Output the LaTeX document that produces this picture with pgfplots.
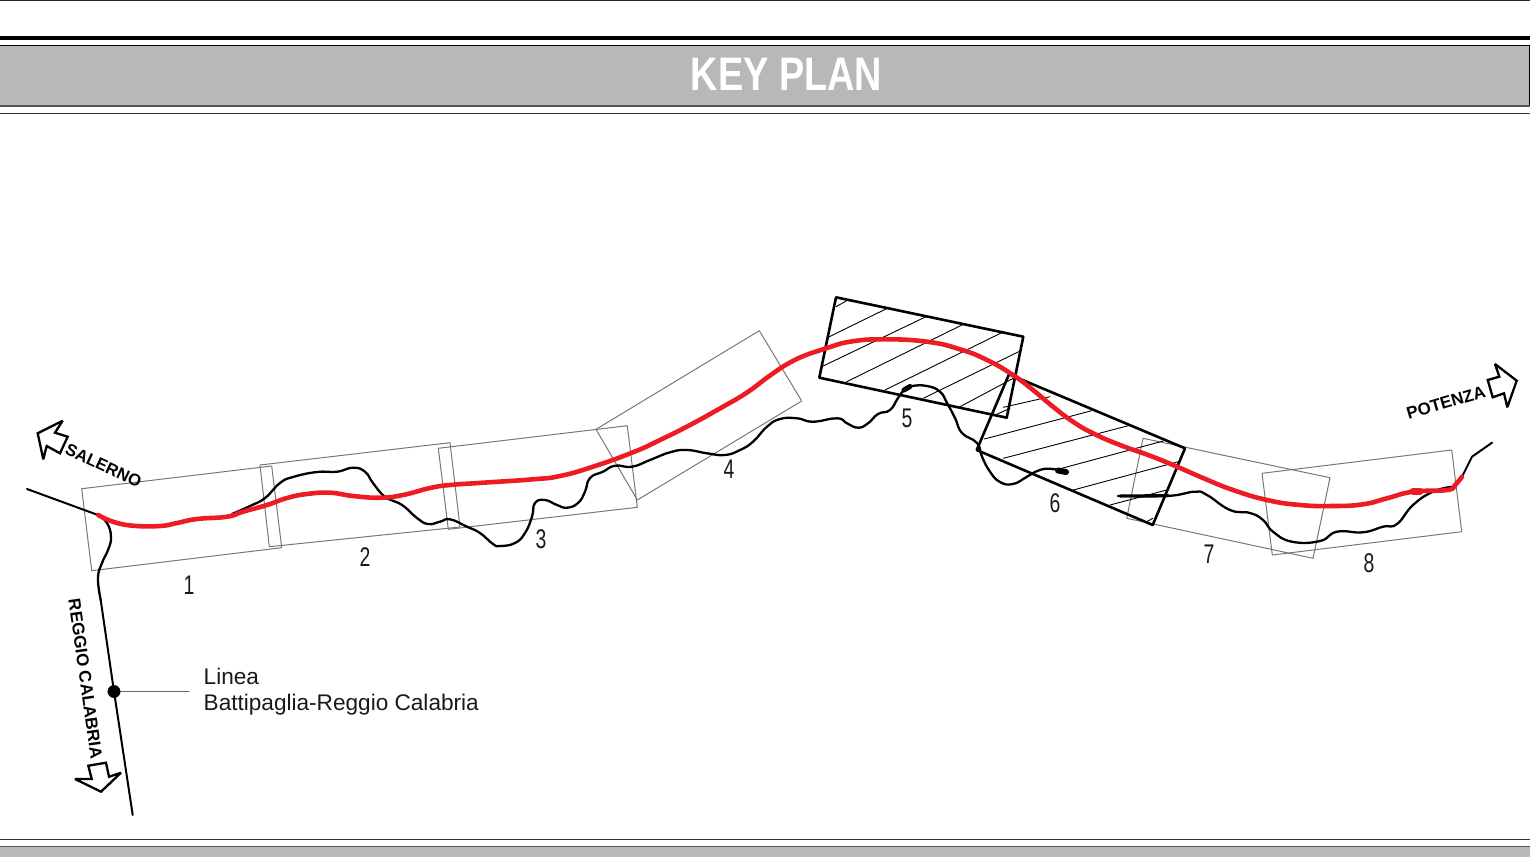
\documentclass[border=0pt]{standalone}
\usepackage{fontspec}
\setmainfont{Liberation Sans}
\usepackage{pgfplots}
\pgfplotsset{compat=1.18}
\definecolor{band}{HTML}{B8B8B8}
\definecolor{bandline}{HTML}{555555}
\definecolor{tracered}{HTML}{ED1C24}
\definecolor{sheet}{HTML}{777777}

\begin{document}
\begin{tikzpicture}
\begin{axis}[
    scale only axis,
    width=1530pt,
    height=857pt,
    xmin=0, xmax=1530,
    ymin=0, ymax=857,
    y dir=reverse,
    hide axis,
    clip=true,
    every axis plot/.append style={line join=round, line cap=round},
    sheetbox/.style={sheet, line width=1pt, no marks},
    boldbox/.style={black, line width=2.6pt, no marks},
    hatch/.style={black, line width=0.9pt, no marks},
    railway/.style={black, line width=2.3pt, no marks, smooth, tension=0.8},
    arrowhead/.style={black, line width=2.3pt, no marks, line join=miter, miter limit=3},
    frame/.style={black, line width=1pt, no marks},
]
% header and footer
\addplot[frame, draw=black!85] coordinates {(0,0.5) (1530,0.5)};
\addplot[black, line width=4pt, no marks, line cap=butt] coordinates {(0,38) (1530,38)};
\addplot[fill=band, draw=none, no marks] coordinates {(0,46) (1529,46) (1529,106) (0,106)} --cycle;
\addplot[frame] coordinates {(0,45) (1530,45)};
\addplot[frame] coordinates {(1529,45) (1529,106)};
\addplot[bandline, line width=1.5pt, no marks] coordinates {(0,106) (1530,106)};
\addplot[frame, draw=black!80] coordinates {(0,113.5) (1530,113.5)};
\addplot[frame, draw=black!80] coordinates {(0,839) (1530,839)};
\addplot[fill=band, draw=none, no marks] coordinates {(0,847) (1530,847) (1530,857) (0,857)} --cycle;
\addplot[bandline, line width=1pt, no marks] coordinates {(0,846.5) (1530,846.5)};

% sheet frames
\addplot[sheetbox] coordinates {(81.7,488.7) (271.7,466) (281.7,547.7) (91.7,570.7)} --cycle;
\addplot[sheetbox] coordinates {(260,465) (450,442.7) (460,527) (269.3,546.7)} --cycle;
\addplot[sheetbox] coordinates {(438.3,448.3) (627.3,425.7) (637.3,507.3) (448.3,529.3)} --cycle;
\addplot[sheetbox] coordinates {(596,429.3) (759.3,330.7) (801.7,401) (637.3,500)} --cycle;
\addplot[sheetbox] coordinates {(1143,438.3) (1330,477.7) (1313,558.3) (1126.7,518.3)} --cycle;
\addplot[sheetbox] coordinates {(1262,473.3) (1451.7,450) (1461.7,531.7) (1272.3,555)} --cycle;

% hatching, sheet 5
\addplot[hatch] coordinates {(836,306.7) (846.7,300.7)};
\addplot[hatch] coordinates {(829.3,336.7) (887.3,308.3)};
\addplot[hatch] coordinates {(821.7,366.7) (926,316.7)};
\addplot[hatch] coordinates {(846.7,381.7) (963.3,324.3)};
\addplot[hatch] coordinates {(885,390) (1001.7,332.7)};
\addplot[hatch] coordinates {(923.3,398.3) (1020.7,350.7)};
\addplot[hatch] coordinates {(960,406.7) (1013.3,378.3)};
\addplot[hatch] coordinates {(996.7,414.3) (1010,408.3)};
% hatching, sheet 6
\addplot[hatch] coordinates {(1003.3,407.3) (1050,396.7)};
\addplot[hatch] coordinates {(984.3,439) (1091.7,410.7)};
\addplot[hatch] coordinates {(1003.3,458.3) (1128.3,425.7)};
\addplot[hatch] coordinates {(1061.7,468.3) (1163.3,441)};
\addplot[hatch] coordinates {(1073.3,490) (1178.3,461.7)};
\addplot[hatch] coordinates {(1110,505) (1166.7,490)};
\addplot[hatch] coordinates {(1146.7,521.7) (1152.7,518.3)};

% hatched sheets
\addplot[boldbox] coordinates {(836,297.3) (1023.3,336.7) (1006.7,417.7) (819.3,377.7)} --cycle;
\addplot[boldbox] coordinates {(1009,374.3) (1185,448.3) (1152.7,525) (976.7,450)} --cycle;

% existing line
\addplot[black, line width=2pt, no marks] coordinates {(27,489) (98,515)};
\addplot[railway] coordinates {(98,515) (107,523) (111,537) (108,550) (102,563) (98,578) (100.7,600)};
\addplot[black, line width=2pt, no marks] coordinates {(100.7,600) (113.3,686.7) (132.7,815)};
\addplot[railway] coordinates {(232,514) (250,506) (265,498) (280,483) (293,477) (317,472) (337,471.7) (353,467.7) (365,471.7) (373,483) (385,496.7) (402,505) (417,518) (428,524) (440,521.7) (450,519.3) (467,526.7) (480,533) (493,544) (500,546) (515,543) (525,533) (532,516.7) (535,503) (545,500) (557,505) (567,507.7) (578,503) (585,491.7) (590,478) (603,471.7) (615,465.7) (632,466.7) (650,460) (670,452.3) (687,450) (707,453.3) (725,455) (740,450) (753,441.7) (767,426.7) (780,419) (797,418.3) (813,421.7) (837,418.3) (847,423.3) (858,427.7) (868,423.3) (878,414) (890,410) (898,398) (905,389) (912,386) (927,386) (940,391.7) (947,403) (955,418) (962,433) (977,443) (982,456.7) (990,471.7) (1000,482) (1013,484) (1027,476.7) (1038,470.7) (1050,468.7) (1065,471.7)};
\addplot[railway] coordinates {(1118,496) (1167,496) (1195,491.7) (1207,495) (1230,510) (1250,513) (1263,520) (1273,531.7) (1292,541.7) (1320,541) (1337,531.7) (1363,532.3) (1383,526.7) (1397,524) (1413,505) (1433,491.7) (1453,486.7)};
\addplot[black, line width=2pt, no marks] coordinates {(1453,486.7) (1462,476.7) (1472,456.7) (1492,442.7)};
% thick scribbled ends of the traced line
\addplot[black, line width=6pt, no marks] coordinates {(1058,470.5) (1066,472)};
\addplot[black, line width=5pt, no marks] coordinates {(904,390) (910,386.5)};
\addplot[black, line width=3pt, no marks] coordinates {(1120,496) (1168,495.5)};

% new alignment
\addplot[tracered, line width=4.6pt, no marks, smooth, tension=0.8] coordinates {(98.3,515) (113,521.7) (133,525.7) (160,526) (177,523) (197,519) (227,516.7) (243,511.7) (267,505) (287,498) (307,494) (330,492.7) (353,496) (380,497.7) (403,495) (430,488) (450,485) (483,482.7) (533,479.3) (560,476) (593,466.7) (633,452.3) (660,440) (690,425) (723,406.7) (747,392.5) (770,375.5) (790,362.5) (810,353.5) (827,348) (850,341.7) (883,339.3) (927,341.7) (960,349.3) (987,360) (1013,375) (1033,390) (1053,406.7) (1073,421.7) (1093,433.3) (1120,445) (1150,455.7) (1177,466.7) (1203,478) (1233,490) (1267,500) (1300,505) (1333,506) (1363,504.3) (1387,498.3) (1413,491.7) (1447,490) (1455,485) (1462,476.7)};
\addplot[tracered, line width=7pt, no marks] coordinates {(1413,491) (1420,491)};

% direction arrows
\addplot[arrowhead] coordinates {(37.7,433.3) (62.7,420.7) (55,432.7) (67.7,436.7) (60,453.3) (46.7,446) (43.3,459.3)} --cycle;
\addplot[arrowhead] coordinates {(1516.7,380.7) (1495,364) (1499.3,376.7) (1487.7,380) (1492.7,397.3) (1504,393.3) (1507.3,407.3)} --cycle;
\addplot[arrowhead] coordinates {(101,791.7) (121,772.7) (109,776.7) (106,762.7) (88.3,765.7) (91.7,779) (75,779)} --cycle;

% legend of the line
\addplot[black!60, line width=1pt, no marks] coordinates {(114,691.5) (189,691.5)};
\addplot[only marks, mark=*, mark size=6.2pt, black] coordinates {(114,691.5)};

% text
\node[text=white, font=\bfseries\fontsize{47}{47}\selectfont, xscale=0.805] at (axis cs:786.5,74) {KEY PLAN};
\node[font=\bfseries\fontsize{16.7}{16.7}\selectfont, rotate=-25] at (axis cs:103.5,465.5) {SALERNO};
\node[font=\bfseries\fontsize{17}{17}\selectfont, rotate=16.4] at (axis cs:1446,402.5) {POTENZA};
\node[font=\bfseries\fontsize{17}{17}\selectfont, rotate=-82] at (axis cs:85.5,679) {REGGIO CALABRIA};
\node[anchor=base west, font=\fontsize{22.6}{22.6}\selectfont, inner sep=0pt, text=black!90] at (axis cs:203.5,684) {Linea};
\node[anchor=base west, font=\fontsize{22.6}{22.6}\selectfont, inner sep=0pt, text=black!90] at (axis cs:203.5,710.7) {Battipaglia-Reggio Calabria};
\foreach \n/\x/\y in {1/189/585, 2/365/557, 3/541/539, 4/729/469, 5/907/418, 6/1055/503, 7/1209/554, 8/1369/563}{
  \edef\temp{\noexpand\node[font=\noexpand\fontsize{27}{27}\noexpand\selectfont, xscale=0.72, text=black!90] at (axis cs:\x,\y) {\n};}
  \temp
}
\end{axis}
\end{tikzpicture}
\end{document}
